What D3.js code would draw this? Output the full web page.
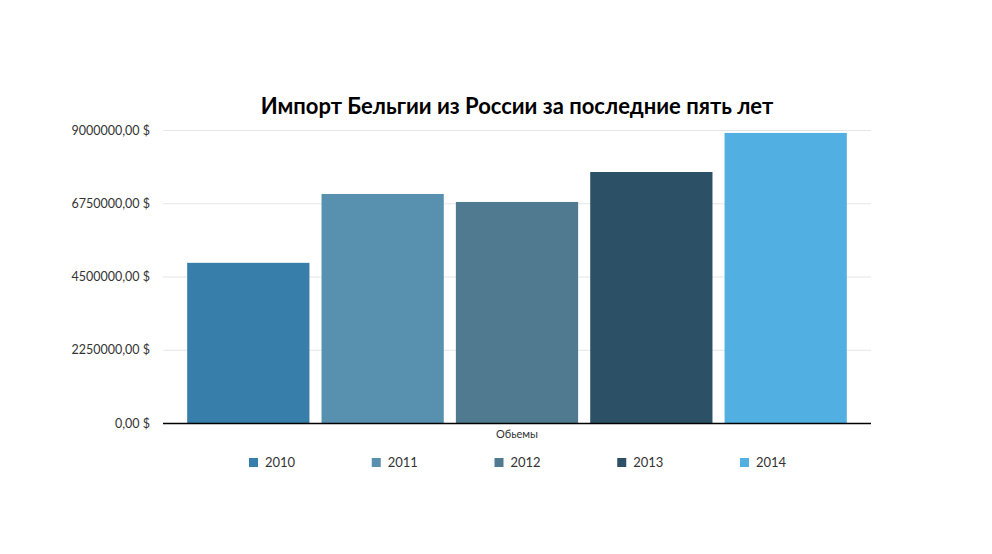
<!DOCTYPE html>
<html>
<head>
<meta charset="utf-8">
<script src="https://cdn.jsdelivr.net/npm/d3@7"></script>
<style>
  body { margin: 0; background: #fff; }
  text { font-family: Lato, "Open Sans", sans-serif; }
</style>
</head>
<body>
<div id="chart"></div>
<script>
var width = 992;
var height = 554;

var years = ["2010", "2011", "2012", "2013", "2014"];
var volumes = [4920000, 7035000, 6790000, 7710000, 8910000];
var colors = ["#377eaa", "#5891b0", "#507a90", "#2c5166", "#52afe2"];
var yTicks = [0, 2250000, 4500000, 6750000, 9000000];

var plotLeft = 163, plotRight = 871, plotTop = 130, plotBottom = 423;

var svg = d3.select("#chart").append("svg")
    .attr("width", width)
    .attr("height", height);

var xScale = d3.scaleBand()
    .domain(years)
    .range([plotLeft, plotRight])
    .paddingInner(0.09)
    .paddingOuter(0.18);

var yScale = d3.scaleLinear()
    .domain([0, 9000000])
    .range([plotBottom, plotTop]);

// grid
var yAxis = d3.axisLeft(yScale)
    .tickValues(yTicks)
    .tickSize(-(plotRight - plotLeft))
    .tickPadding(13)
    .tickFormat(function (d) {
        return d3.format(".2f")(d).replace(".", ",") + " $";
    });

var gy = svg.append("g")
    .attr("transform", "translate(" + plotLeft + ",0)")
    .call(yAxis);
gy.select(".domain").remove();
gy.selectAll(".tick line").attr("stroke", "#e6e6e6");
gy.selectAll(".tick text")
    .attr("fill", "#333")
    .style("font-size", "12.5px");

svg.selectAll(".bar")
    .data(years).enter().append("rect")
    .attr("x", function (d) { return xScale(d); })
    .attr("y", function (d, i) { return yScale(volumes[i]); })
    .attr("width", xScale.bandwidth())
    .attr("height", function (d, i) { return yScale(0) - yScale(volumes[i]); })
    .style("fill", function (d, i) { return colors[i]; });

svg.append("line")
    .attr("x1", plotLeft).attr("x2", plotRight)
    .attr("y1", yScale(0) + 0.5).attr("y2", yScale(0) + 0.5)
    .attr("stroke", "#000")
    .attr("stroke-width", 1.5);

svg.append("text")
    .attr("x", (plotLeft + plotRight) / 2)
    .attr("y", 438)
    .attr("text-anchor", "middle")
    .attr("fill", "#333")
    .style("font-size", "11px")
    .text("Обьемы");

svg.append("text")
    .attr("x", 517)
    .attr("y", 114)
    .attr("text-anchor", "middle")
    .attr("fill", "#000")
    .style("font-size", "22px")
    .style("font-weight", "bold")
    .text("Импорт Бельгии из России за последние пять лет");

var legendX = d3.scalePoint()
    .domain(years)
    .range([249, 740]);

var legend = svg.selectAll(".legend")
    .data(years).enter().append("g")
    .attr("transform", function (d) {
        return "translate(" + legendX(d) + ",458)";
    });
legend.append("rect")
    .attr("width", 9).attr("height", 9)
    .style("fill", function (d, i) { return colors[i]; });
legend.append("text")
    .attr("x", 16)
    .attr("y", 9)
    .attr("fill", "#333")
    .style("font-size", "13px")
    .text(function (d) { return d; });
</script>
</body>
</html>
